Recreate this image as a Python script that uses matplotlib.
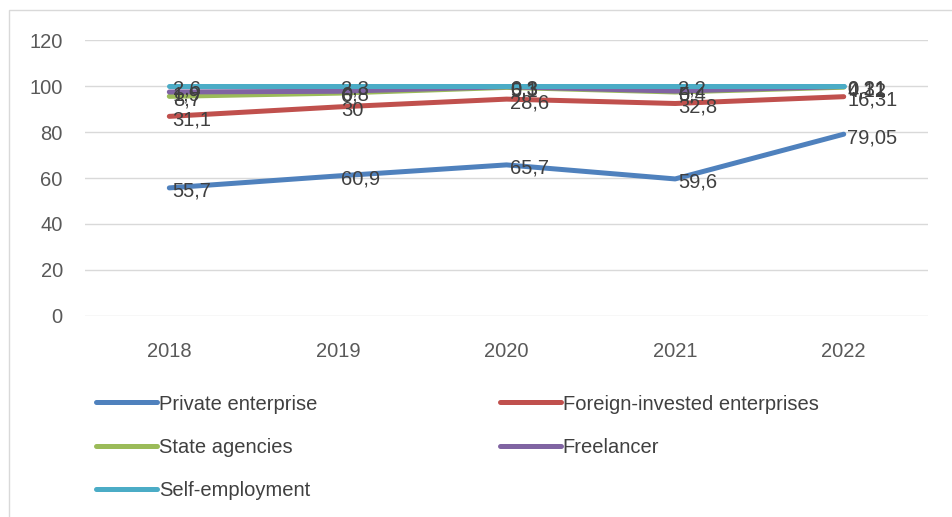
import numpy as np
import matplotlib.pyplot as plt
from matplotlib.patches import Rectangle

plt.rcParams['font.family'] = ['Liberation Sans', 'DejaVu Sans']

years = ['2018', '2019', '2020', '2021', '2022']
private = [55.7, 60.9, 65.7, 59.6, 79.05]
foreign = [31.1, 30, 28.6, 32.8, 16.31]
state = [8.7, 6.0, 5.1, 5.0, 4.12]
freelancer = [1.9, 0.8, 0.3, 0.4, 0.31]
self_emp = [2.6, 2.3, 0.3, 2.2, 0.21]

names = ['Private enterprise', 'Foreign-invested enterprises', 'State agencies',
         'Freelancer', 'Self-employment']
series = [private, foreign, state, freelancer, self_emp]
colors = ['#4F81BD', '#C0504D', '#9BBB59', '#8064A2', '#4BACC6']

fig = plt.figure(figsize=(9.53, 5.17), dpi=100)
ax = fig.add_axes([0.0892, 0.3888, 0.8846, 0.5338])

x = np.arange(len(years))
cum = np.zeros(len(years))
handles = {}
for name, vals, c in zip(names, series, colors):
    cum = cum + np.array(vals)
    ln, = ax.plot(x, cum, color=c, lw=3.6, solid_capstyle='round',
                  solid_joinstyle='round', zorder=3)
    handles[name] = ln
    for xi, yi, v in zip(x, cum, vals):
        txt = ('%g' % v).replace('.', ',')
        ax.text(xi + 0.02, yi - 1.5, txt, fontsize=14.5, color='#404040',
                ha='left', va='center', zorder=4)

ax.set_xlim(-0.5, 4.5)
ax.set_ylim(0, 120)
ax.set_yticks(range(0, 121, 20))
ax.set_xticks(x)
ax.set_xticklabels(years)
ax.tick_params(length=0, labelsize=14.5, colors='#595959')
ax.tick_params(axis='x', pad=19)
ax.tick_params(axis='y', pad=16)
ax.grid(axis='y', color='#D9D9D9', lw=1)
ax.set_axisbelow(True)
for s in ax.spines.values():
    s.set_visible(False)

# row-wise legend order for a two-column layout
order = ['Private enterprise', 'State agencies', 'Self-employment',
         'Foreign-invested enterprises', 'Freelancer']
leg = fig.legend([handles[n] for n in order], order, ncol=2,
                 loc='upper left', bbox_to_anchor=(0.082, 0.272),
                 frameon=False, fontsize=14.5, handlelength=3.0,
                 handletextpad=0.1, columnspacing=9.1, labelspacing=1.2,
                 labelcolor='#404040')
for lh in leg.get_lines():
    lh.set_linewidth(3.6)

fig.patches.append(Rectangle((0.009, -0.02), 1.2, 1.0, transform=fig.transFigure,
                             fill=False, edgecolor='#D9D9D9', lw=1))

fig.savefig('out.png', dpi=100)
